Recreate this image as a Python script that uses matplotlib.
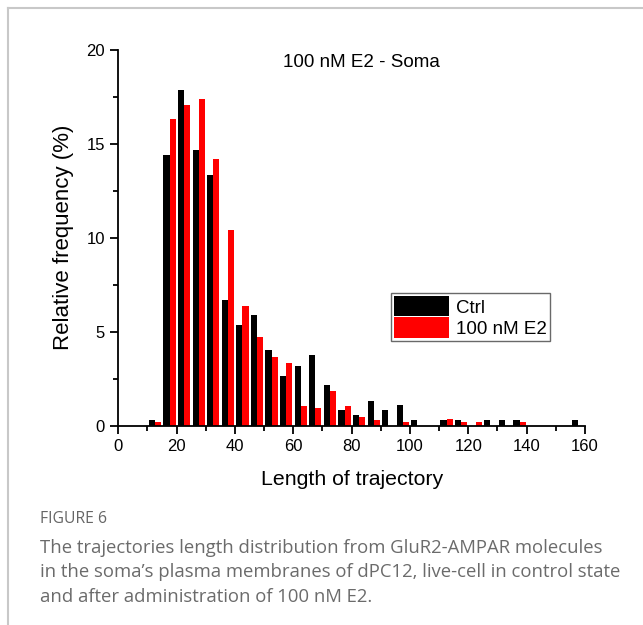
import numpy as np
import matplotlib
matplotlib.use('Agg')
import matplotlib.pyplot as plt
from matplotlib.lines import Line2D

plt.rcParams['font.family'] = ['Liberation Sans', 'DejaVu Sans']

# bin start of each 5-unit class
bin_starts = list(range(10, 160, 5))
ctrl = [0.30, 14.38, 17.84, 14.65, 13.32, 6.67, 5.34, 5.87, 4.00, 2.66,
        3.19, 3.74, 2.13, 0.82, 0.55, 1.33, 0.82, 1.08, 0.29, 0.0,
        0.29, 0.29, 0.0, 0.29, 0.29, 0.29, 0.0, 0.0, 0.0, 0.29]
e2 = [0.18, 16.31, 17.06, 17.36, 14.19, 10.43, 6.35, 4.69, 3.63, 3.31,
      1.04, 0.94, 1.81, 1.04, 0.46, 0.30, 0.0, 0.16, 0.0, 0.0,
      0.34, 0.16, 0.16, 0.0, 0.0, 0.16, 0.0, 0.0, 0.0, 0.0]

xticks = [0, 20, 40, 60, 80, 100, 120, 140, 160]
yticks = [0, 5, 10, 15, 20]

fig = plt.figure(figsize=(6.43, 6.25), dpi=100)

# page frame (top + left gray rule)
fig.add_artist(Line2D([8/643, 8/643], [0, 1 - 8/625], color='#c8c8c8', lw=1.5))
fig.add_artist(Line2D([8/643, 1], [1 - 8/625, 1 - 8/625], color='#c8c8c8', lw=1.5))

ax = fig.add_axes([0.184, 0.3192, 0.7258, 0.6013])
b = np.array(bin_starts)
w = 2.1
ax.bar(b + 0.45, ctrl, width=w, align='edge', color='black', label='Ctrl')
ax.bar(b + 0.45 + w, e2, width=w, align='edge', color='#ff0000', label='100 nM E2')

ax.set_xlim(0, 160)
ax.set_ylim(0, 20)
ax.set_xticks(xticks)
ax.set_yticks(yticks)
ax.set_xticks(range(10, 160, 20), minor=True)
ax.set_yticks([2.5, 7.5, 12.5, 17.5], minor=True)
for s in ['top', 'right']:
    ax.spines[s].set_visible(False)
for s in ['left', 'bottom']:
    ax.spines[s].set_linewidth(1.3)
ax.tick_params(which='major', direction='out', length=6, width=1.3, labelsize=12)
ax.tick_params(which='minor', direction='out', length=3.5, width=1.3)
ax.set_xlabel('Length of trajectory', fontsize=15.3, labelpad=12)
ax.set_ylabel('Relative frequency (%)', fontsize=16, labelpad=9)
ax.text(0.52, 0.965, '100 nM E2 - Soma', transform=ax.transAxes,
        ha='center', va='center', fontsize=13.5)

leg = ax.legend(loc='upper left', bbox_to_anchor=(0.585, 0.352), fontsize=13.5,
                frameon=True, fancybox=False, edgecolor='#444444',
                handlelength=2.9, handleheight=1.3, handletextpad=0.4,
                borderpad=0.15, labelspacing=0.05, borderaxespad=0)
leg.get_frame().set_linewidth(1.0)

fig.text(40/643, 1 - 519/625, 'FIGURE 6', fontsize=11.3, color='#666666',
         family=['Open Sans', 'DejaVu Sans'], va='center')
caption = ('The trajectories length distribution from GluR2-AMPAR molecules\n'
           'in the soma\u2019s plasma membranes of dPC12, live-cell in control state\n'
           'and after administration of 100 nM E2.')
fig.text(40/643, 1 - 539/625, caption, fontsize=13.3, color='#6b6b6b',
         family=['Open Sans', 'DejaVu Sans'], va='top', linespacing=1.46)

fig.savefig('out.png', dpi=100)
